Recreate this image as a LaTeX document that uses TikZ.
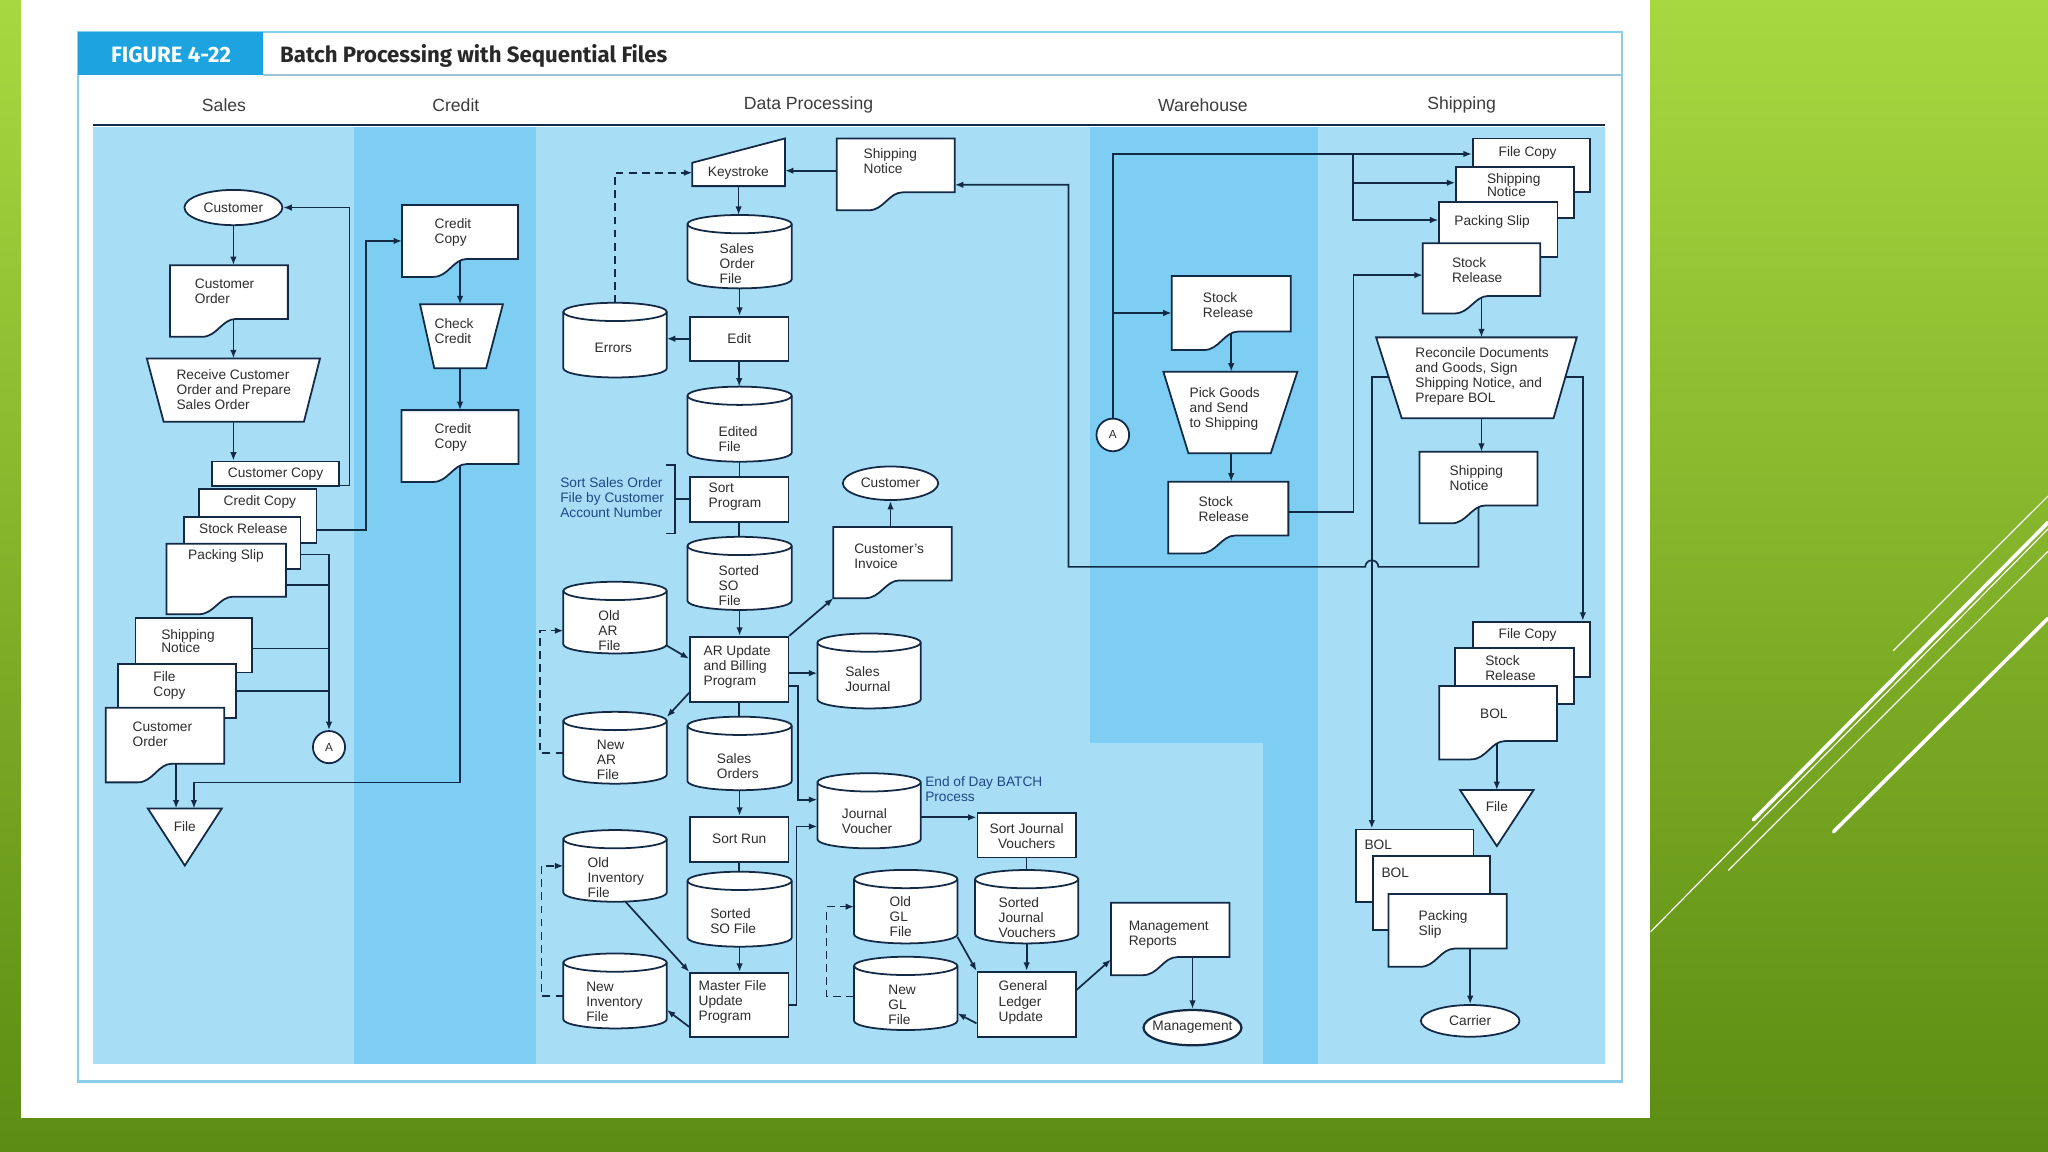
\documentclass[tikz,border=0pt]{standalone}
\usepackage{fontspec}
\setmainfont{Liberation Sans}
\newfontfamily\titlefont{Fira Sans}
\usetikzlibrary{arrows.meta,calc,shapes.geometric}
\pgfdeclarelayer{bg}
\pgfdeclarelayer{conn}
\pgfsetlayers{bg,conn,main}
\definecolor{linec}{RGB}{18,42,70}
\definecolor{txtc}{RGB}{45,45,45}
\definecolor{notec}{RGB}{30,72,135}
\definecolor{laneL}{RGB}{168,221,246}
\definecolor{laneM}{RGB}{126,205,242}
\definecolor{figblue}{RGB}{28,163,224}
\definecolor{framec}{RGB}{140,205,235}
\definecolor{gtop}{RGB}{168,216,64}
\definecolor{gbot}{RGB}{92,140,18}
\definecolor{hdrc}{RGB}{60,60,60}
\definecolor{titc}{RGB}{40,40,40}
\definecolor{sepc}{RGB}{160,195,212}
\tikzset{
 shp/.style={draw=linec, line width=1.35pt, fill=white},
 shpl/.style={draw=linec, line width=1.35pt},
 box0/.style={draw=none, fill=none, inner sep=0pt, outer sep=0pt, rectangle},
 lbl/.style={font=\fontsize{10.5}{11.5}\selectfont, text=txtc, inner sep=0pt, align=left},
 note/.style={font=\fontsize{10.5}{11.8}\selectfont, text=notec, inner sep=0pt, align=left},
 arr/.style={draw=linec, line width=1.3pt, -{Latex[length=6.5pt,width=5pt]}},
 ln/.style={draw=linec, line width=1.3pt},
 dsh/.style={draw=linec, line width=1.2pt, dash pattern=on 6pt off 4pt},
 hdr/.style={font=\fontsize{13.5}{16}\selectfont, text=hdrc, inner sep=0pt},
 wl/.style={draw=white, line cap=round},
}
\newcommand{\Doc}[5]{%
  \filldraw[shp] (#2,#3) -- (#4,#3) -- (#4,{#5-0.25*(#5-#3)})
    -- ({#2+0.56*(#4-#2)},{#5-0.25*(#5-#3)})
    .. controls ({#2+0.44*(#4-#2)},{#5-0.25*(#5-#3)}) and ({#2+0.40*(#4-#2)},{#5}) ..
    ({#2+0.27*(#4-#2)},{#5}) -- (#2,#5) -- cycle;
  \node[box0, minimum width={(#4-#2)*1pt}, minimum height={(#5-#3)*1pt}] (#1) at ({(#2+#4)/2},{(#3+#5)/2}) {};
}
\newcommand{\Cyl}[5]{%
  \filldraw[shp] (#2,{#3+7}) -- (#2,{#5-7})
    arc[start angle=180,end angle=360,x radius={(#4-#2)/2*1pt},y radius=7pt]
    -- (#4,{#3+7})
    arc[start angle=0,end angle=180,x radius={(#4-#2)/2*1pt},y radius=7pt] -- cycle;
  \draw[shpl] (#2,{#3+7}) arc[start angle=180,end angle=360,x radius={(#4-#2)/2*1pt},y radius=7pt];
  \node[box0, minimum width={(#4-#2)*1pt}, minimum height={(#5-#3)*1pt}] (#1) at ({(#2+#4)/2},{(#3+#5)/2}) {};
}
\newcommand{\Trap}[7]{%
  \filldraw[shp] (#2,#4) -- (#3,#4) -- (#6,#7) -- (#5,#7) -- cycle;
  \node[box0, minimum width={(#3-#2)*1pt}, minimum height={(#7-#4)*1pt}] (#1) at ({(#2+#3)/2},{(#4+#7)/2}) {};
}
\newcommand{\RectN}[5]{%
  \node[shp, rectangle, inner sep=0pt, minimum width={(#4-#2)*1pt}, minimum height={(#5-#3)*1pt}] (#1) at ({(#2+#4)/2},{(#3+#5)/2}) {};
}
\newcommand{\Term}[5]{%
  \node[shp, ellipse, inner sep=0pt, minimum width=#4pt, minimum height=#5pt] (#1) at (#2,#3) {};
}
\newcommand{\Tl}[4]{\node[lbl, anchor=west] (#1) at (#2,#3) {#4};}
\newcommand{\Tc}[4]{\node[lbl, align=center] (#1) at (#2,#3) {#4};}
\begin{document}
\begin{tikzpicture}[x=1pt,y=-1pt]
\useasboundingbox (0,0) rectangle (1568,882);
\begin{pgfonlayer}{bg}
\fill[top color=gtop, bottom color=gbot] (0,0) rectangle (1568,882);
\draw[wl, line width=0.9pt] (1263.9,713.2) -- (1568,405);
\draw[wl, line width=0.9pt] (1323.4,666.2) -- (1568,422);
\draw[wl, line width=2.8pt] (1342.5,627.6) -- (1568,400);
\draw[wl, line width=0.9pt] (1449.7,498) -- (1568,379.8);
\draw[wl, line width=2.8pt] (1403.8,636.8) -- (1568,473.4);
\fill[white] (16,0) rectangle (1263.5,856);
% lanes
\fill[laneL] (71.5,97) rectangle (271,814.5);
\fill[laneM] (271,97) rectangle (410.4,814.5);
\fill[laneL] (410.4,97) rectangle (834.6,814.5);
\fill[laneM] (834.6,97) rectangle (1009.4,814.5);
\fill[laneL] (834.6,569.2) rectangle (967.3,814.5);
\fill[laneL] (1009.4,97) rectangle (1229,814.5);
% header
\draw[framec, line width=1.6pt] (59.5,24.5) rectangle (1241.5,828);
\fill[figblue] (59.8,24.3) rectangle (201,57.4);
\draw[sepc, line width=1.2pt] (201,57.4) -- (1241.5,57.4);
\draw[linec, line width=1.6pt] (71.5,96) -- (1229,96);
\end{pgfonlayer}

\node[font=\titlefont\bfseries\fontsize{17}{20}\selectfont, text=white, inner sep=0pt] (fig) at (131,42) {FIGURE 4-22};
\node[anchor=west, font=\titlefont\bfseries\fontsize{17}{20}\selectfont, text=titc, inner sep=0pt] (title) at (214.3,42.5) {Batch Processing with Sequential Files};
\node[hdr] (hsales) at (171.5,80.4) {Sales};
\node[hdr] (hcredit) at (349,80.4) {Credit};
\node[hdr] (hdp) at (619,80.4) {Data Processing};
\node[hdr] (hwh) at (921,80.4) {Warehouse};
\node[hdr] (hship) at (1119,80.4) {Shipping};

% ---------- Sales ----------
\Term{cust1}{178.7}{158.9}{75}{27}
\Tc{tcust1}{178.7}{158.9}{Customer}
\Doc{corder1}{130.2}{203}{220.4}{257.9}
\Tl{tcorder1}{149}{223.3}{Customer\\Order}
\Trap{recv}{112.4}{245}{274.4}{125.3}{232.7}{322.9}
\Tl{trecv}{135}{298}{Receive Customer\\Order and Prepare\\Sales Order}
\RectN{cc1}{162.3}{353.4}{259.3}{372}
\Tc{tcc1}{211}{363}{Customer Copy}
\RectN{ccr}{152.6}{374.4}{242.3}{416}
\Tc{tccr}{199}{384.5}{Credit Copy}
\RectN{sr1}{140.6}{395.7}{230}{435.4}
\Tc{tsr1}{186.3}{404.8}{Stock Release}
\Doc{ps1}{127.4}{416.3}{219}{470.3}
\Tc{tps1}{173}{425.5}{Packing Slip}
\RectN{sn1}{103.7}{472.9}{193}{514.9}
\node[lbl, anchor=west, font=\fontsize{10.5}{10.4}\selectfont] (tsn1) at (123.3,490.7) {Shipping\\Notice};
\RectN{fc1}{90.5}{508.5}{180.7}{549.8}
\Tl{tfc1}{117.3}{524.6}{File\\Copy}
\Doc{co2}{80.9}{541.8}{171.7}{599}
\Tl{tco2}{101.4}{562.3}{Customer\\Order}
\node[shp, circle, minimum size=24.6pt, inner sep=0pt] (a1) at (251.9,572) {};
\node[lbl, font=\fontsize{9}{10}\selectfont] (ta1) at (a1) {A};
\filldraw[shp] (113.2,619) -- (169.8,619) -- (141.5,662.7) -- cycle;
\node[box0, minimum width=56.6pt, minimum height=43.7pt] (file1) at (141.5,640.85) {};
\Tc{tfile1}{141.5}{632.5}{File}

% ---------- Credit ----------
\Doc{cr1}{307.8}{157}{396.6}{212}
\Tl{tcr1}{332.6}{178}{Credit\\Copy}
\Trap{chk}{321.6}{385}{233}{332.5}{372.2}{282}
\Tl{tchk}{332.6}{253.3}{Check\\Credit}
\Doc{cr2}{307.4}{314}{397}{369}
\Tl{tcr2}{332.6}{335}{Credit\\Copy}

% ---------- Data Processing ----------
\filldraw[shp] (530,124.6) -- (601,106) -- (601,142.5) -- (530,142.5) -- cycle;
\node[box0, minimum width=71pt, minimum height=36.5pt] (ks) at (565.5,124.25) {};
\Tc{tks}{565.3}{132.5}{Keystroke}
\Doc{sn2}{640.6}{106}{731}{161}
\Tl{tsn2}{661}{123.7}{Shipping\\Notice}
\Cyl{sof}{526.3}{164.6}{606.2}{220.8}
\Tl{tsof}{550.8}{202}{Sales\\Order\\File}
\RectN{edit}{528.3}{242.5}{603.6}{276.2}
\Tc{tedit}{566}{259.4}{Edit}
\Cyl{err}{431.3}{231.8}{510.5}{289}
\Tc{terr}{469.6}{266.7}{Errors}
\Cyl{edf}{526.3}{296}{606.2}{353.5}
\Tl{tedf}{550}{336}{Edited\\File}
\RectN{sortp}{528.3}{365}{603.6}{399.5}
\Tl{tsortp}{542.4}{380}{Sort\\Program}
\node[note, anchor=west] (note1) at (428.8,381) {Sort Sales Order\\File by Customer\\Account Number};
\Term{cust2}{681.8}{370}{73}{25.7}
\Tc{tcust2}{681.8}{370}{Customer}
\Doc{inv}{638}{403.5}{728.7}{458}
\Tl{tinv}{653.9}{426}{Customer's\\Invoice}
\Cyl{ssf}{526.3}{411}{606.2}{467}
\Tl{tssf}{550}{448.5}{Sorted\\SO\\File}
\Cyl{oar}{431.3}{445.4}{510.5}{500.3}
\Tl{toar}{458}{482.5}{Old\\AR\\File}
\RectN{arb}{528.3}{487.5}{603.6}{537.3}
\Tl{tarb}{538.5}{510.5}{AR Update\\and Billing\\Program}
\Cyl{nar}{431.3}{545}{510.5}{600}
\Tl{tnar}{456.8}{581.5}{New\\AR\\File}
\Cyl{sj}{625.8}{485}{705}{542.4}
\Tl{tsj}{647}{520.3}{Sales\\Journal}
\Cyl{so}{526.3}{548.7}{606.2}{605}
\Tl{tso}{548.7}{586.3}{Sales\\Orders}
\Cyl{jv}{625.8}{592}{705}{649.5}
\Tl{tjv}{644.4}{628.5}{Journal\\Voucher}
\node[note, anchor=west] (note2) at (708.2,604.3) {End of Day BATCH\\Process};
\RectN{sortrun}{528.3}{625.3}{603.6}{659.7}
\Tc{tsortrun}{566}{642.5}{Sort Run}
\Cyl{ssf2}{526.3}{667.4}{606.2}{724.8}
\Tl{tssf2}{543.6}{705}{Sorted\\SO File}
\RectN{mfu}{528.3}{744.7}{603.6}{793.7}
\Tl{tmfu}{534.7}{767}{Master File\\Update\\Program}
\Cyl{oinv}{431.3}{635.5}{510.5}{690.4}
\Tl{toinv}{449.7}{671.7}{Old\\Inventory\\File}
\Cyl{ninv}{431.3}{730}{510.5}{787.4}
\Tl{tninv}{448.7}{767}{New\\Inventory\\File}
\RectN{sjv}{748.3}{622.2}{823.6}{656.5}
\Tc{tsjv}{786}{640.3}{Sort Journal\\Vouchers}
\Cyl{sdjv}{746.5}{666.1}{825.6}{722.3}
\Tl{tsdjv}{764.4}{702.3}{Sorted\\Journal\\Vouchers}
\Cyl{ogl}{653.9}{666}{733}{722.3}
\Tl{togl}{681}{702}{Old\\GL\\File}
\Cyl{ngl}{653.9}{732.5}{733}{788.6}
\Tl{tngl}{680}{769}{New\\GL\\File}
\RectN{glu}{748.3}{744}{823.6}{793.8}
\Tl{tglu}{764.4}{767.5}{General\\Ledger\\Update}
\Doc{mr}{850.6}{691.2}{941.3}{746.6}
\Tl{tmr}{864}{715.3}{Management\\Reports}
\node[shp, line width=1.7pt, ellipse, inner sep=0pt, minimum width=75pt, minimum height=27pt] (mgmt) at (913,786.8) {};
\Tc{tmgmt}{913}{786.8}{Management}

% ---------- Warehouse ----------
\node[shp, circle, minimum size=25pt, inner sep=0pt] (a2) at (852,333) {};
\node[lbl, font=\fontsize{9}{10}\selectfont] (ta2) at (a2) {A};
\Doc{w1}{897.1}{211.3}{988.2}{268}
\Tl{tw1}{920.8}{233.3}{Stock\\Release}
\Trap{pick}{890.7}{993.3}{284.6}{909.9}{972.9}{347.1}
\Tl{tpick}{910.6}{313}{Pick Goods\\and Send\\to Shipping}
\Doc{w2}{894.5}{368.8}{986.4}{423.7}
\Tl{tw2}{917.5}{390.1}{Stock\\Release}

% ---------- Shipping ----------
\RectN{s1}{1127.6}{106}{1217.5}{146.8}
\Tc{ts1}{1169.6}{117.4}{File Copy}
\RectN{s2}{1114.9}{127.6}{1205.2}{167.2}
\node[lbl, anchor=west, font=\fontsize{10.5}{10.2}\selectfont] (ts2) at (1138.3,141.7) {Shipping\\Notice};
\RectN{s3}{1102}{154.4}{1192.4}{196.5}
\Tl{ts3}{1113.3}{169.7}{Packing Slip}
\Doc{s4}{1089.3}{186.3}{1179.2}{240}
\Tl{ts4}{1111.5}{206.8}{Stock\\Release}
\Trap{rec}{1053.6}{1207.2}{258.3}{1073.2}{1189.4}{320.3}
\Tl{trec}{1083.5}{288}{Reconcile Documents\\and Goods, Sign\\Shipping Notice, and\\Prepare BOL}
\coordinate (recL) at (1063.1,288.4);
\coordinate (recR) at (1198.6,288.4);
\Doc{s6}{1086.8}{345.9}{1177.1}{400.7}
\Tl{ts6}{1109.7}{365.7}{Shipping\\Notice}
\RectN{s5}{1127.6}{476}{1217.5}{518.1}
\Tc{ts5}{1169.6}{486.2}{File Copy}
\RectN{s7}{1114.1}{496.4}{1205.2}{539}
\node[lbl, anchor=west, font=\fontsize{10.5}{11}\selectfont] (ts7) at (1137,511.4) {Stock\\Release};
\Doc{s8}{1102}{525.3}{1192}{581.4}
\Tc{ts8}{1143.7}{546.7}{BOL}
\filldraw[shp] (1117.9,604.9) -- (1174.1,604.9) -- (1146,647.8) -- cycle;
\node[box0, minimum width=56.2pt, minimum height=42.9pt] (file2) at (1146,626.35) {};
\Tc{tfile2}{1146}{617.5}{File}
\RectN{b1}{1038.3}{635}{1128.1}{690.4}
\Tl{tb1}{1044.5}{647}{BOL}
\RectN{b2}{1051}{655.5}{1140.9}{712.1}
\Tl{tb2}{1057.5}{668.2}{BOL}
\Doc{b3}{1063}{684.5}{1153.6}{740.2}
\Tl{tb3}{1086}{707.5}{Packing\\Slip}
\Term{carrier}{1125.6}{781.6}{75.5}{24.3}
\Tc{tcarrier}{1125.6}{781.6}{Carrier}

% ---------- connectors ----------
\begin{pgfonlayer}{conn}
% Sales
\draw[arr] (cust1.south) -- (cust1.south |- corder1.north);
\draw[arr] (cust1.south |- corder1.center) -- (cust1.south |- recv.north);
\draw[arr] (cust1.south |- recv.center) -- (cust1.south |- cc1.north);
\draw[arr] ([yshift=1pt]cc1.south east) -- ++(7.5,0) |- (cust1.east);
\draw[arr] ([yshift=-10.6pt]ccr.east) -- ++(37,0) |- (cr1.west);
\draw[arr] ([yshift=-9pt]sr1.east) -| (a1.north);
\draw[ln] ([yshift=-4.7pt]ps1.east) -- ([yshift=-4.7pt]ps1.east -| a1.north);
\draw[ln] ([yshift=-2.5pt]sn1.east) -- ([yshift=-2.5pt]sn1.east -| a1.north);
\draw[ln] (fc1.east) -- (fc1.east -| a1.north);
\draw[arr] ([xshift=8.5pt]co2.center) -- ([xshift=8.5pt]co2.center |- file1.north);
\draw[arr] (cr2.center) |- ([xshift=7pt,yshift=20pt]file1.north) -- ([xshift=7pt]file1.north);
% Credit
\draw[arr] (cr1.center) -- (cr1.center |- chk.north);
\draw[arr] (cr1.center |- chk.center) -- (cr1.center |- cr2.north);
% Data processing
\draw[arr] ([yshift=2.8pt]sn2.west) -- ([yshift=2.8pt]sn2.west -| ks.east);
\draw[arr] (ks.center) -- (ks.center |- sof.north);
\draw[arr] (sof.center) -- (sof.center |- edit.north);
\draw[arr] (edit.west) -- (edit.west -| err.east);
\draw[dsh, -{Latex[length=6.5pt,width=5pt]}] (err.north) |- ([yshift=-8pt]ks.west);
\draw[arr] (edit.south) -- (edit.south |- edf.north);
\draw[ln] (edf.south) -- (edf.south |- sortp.north);
\draw[ln] (sortp.south) -- (sortp.south |- ssf.north);
\draw[ln] ([xshift=-17.8pt,yshift=25pt]note1.east -| sortp.west) -- ++(7.1,0) -- ++(0,52.4) -- ++(-7.1,0);
\draw[ln] ([xshift=-10.7pt]sortp.west) -- (sortp.west);
\draw[arr] (ssf.south) -- (ssf.south |- arb.north);
\draw[arr] (arb.north east) -- (inv.south west);
\draw[arr] (cust2.south |- inv.north) -- (cust2.south);
\draw[arr] ([yshift=6pt]oar.south east) -- ([yshift=8pt]arb.west);
\draw[arr] ([yshift=-18pt]arb.west) -- ([yshift=-4pt]nar.north east);
\draw[dsh, -{Latex[length=6.5pt,width=5pt]}] ([yshift=-4pt]nar.west) -- ++(-18,0) |- ([yshift=-10pt]oar.west);
\draw[arr] ([yshift=-3pt]arb.east) -- ([yshift=-3pt]arb.east -| sj.west);
\draw[arr] ([yshift=-13pt]arb.east) -- ++(6.5,0) |- ([yshift=8.5pt]jv.west);
\draw[ln] (arb.south) -- (arb.south |- so.north);
\draw[arr] (so.south) -- (so.south |- sortrun.north);
\draw[ln] (sortrun.south) -- (sortrun.south |- ssf2.north);
\draw[arr] (ssf2.south) -- (ssf2.south |- mfu.north);
\draw[arr] (mfu.east) -- ++(5.5,0) |- ([yshift=-12pt]jv.west);
\draw[arr] ([xshift=8pt]oinv.south) -- (mfu.north west);
\draw[arr] ([yshift=-17pt]mfu.west) -- ([yshift=-14.5pt]ninv.east);
\draw[dsh, -{Latex[length=6.5pt,width=5pt]}] ([yshift=-4pt]ninv.west) -- ++(-16.6,0) |- (oinv.west);
\draw[arr] ([yshift=-5pt]jv.east) -- ([yshift=-5pt]jv.east -| sjv.west);
\draw[ln] (sjv.south) -- (sjv.south |- sdjv.north);
\draw[arr] (sdjv.south) -- (sdjv.south |- glu.north);
\draw[arr] ([yshift=5pt]ogl.south east) -- (glu.north west);
\draw[arr] ([yshift=-14.6pt]glu.west) -- ([yshift=-15.3pt]ngl.east);
\draw[dsh, -{Latex[length=6.5pt,width=5pt]}] ([yshift=-2.5pt]ngl.west) -- ++(-21,0) |- (ogl.west);
\draw[arr] ([yshift=11pt]glu.east) -- ([yshift=12pt]mr.south west);
\draw[arr] (mgmt.north |- mr.center) -- (mgmt.north);
% Warehouse / Shipping
\draw[arr] (a2.north) |- ([yshift=8.5pt]s1.west);
\coordinate (fan) at (1036,117.9);
\draw[arr] (fan) |- ([yshift=7pt]s3.west);
\draw[arr] ([yshift=7.5pt]s2.west -| fan) -- ([yshift=7.5pt]s2.west);
\draw[arr] (a2.north |- w1.west) -- (w1.west);
\draw[arr] (w1.center) -- (w1.center |- pick.north);
\draw[arr] (w1.center |- pick.center) -- (w1.center |- w2.north);
\draw[arr] ([yshift=4.4pt]w2.east) -- ++(49.8,0) |- ([yshift=2.5pt]s4.west);
\draw[arr] (s4.center) -- (s4.center |- rec.north);
\draw[arr] (s4.center |- rec.center) -- (s4.center |- s6.north);
\draw[arr] (recL) -| ([xshift=-32.9pt]b1.north);
\draw[arr] (recR) -| ([xshift=39.3pt]s5.north);
\draw[arr] (s6.center) |- (1055.3,434) arc[start angle=0, end angle=180, radius=5pt] -- (818,434) |- ([yshift=-8pt]sn2.east);
\draw[arr] (file2.north |- s8.center) -- (file2.north);
\draw[arr] (carrier.north |- b3.center) -- (carrier.north);
\end{pgfonlayer}
\end{tikzpicture}
\end{document}
